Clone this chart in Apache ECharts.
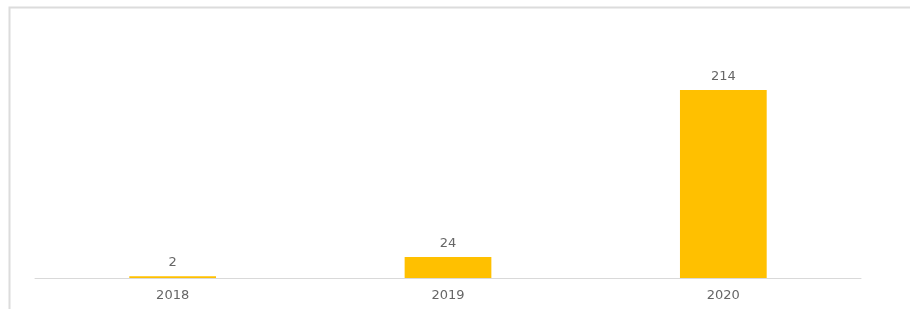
<!DOCTYPE html>
<html>
<head>
<meta charset="utf-8">
<script src="https://cdn.jsdelivr.net/npm/echarts@6/dist/echarts.min.js"></script>
<style>
  html, body { margin: 0; padding: 0; background: #fff; }
  #chart { width: 910px; height: 309px; }
</style>
</head>
<body>
<div id="chart"></div>
<script>
const years  = ['2018', '2019', '2020'];
const counts = [2, 24, 214];

const chart = echarts.init(document.getElementById('chart'));

chart.setOption({
  animation: false,
  grid: { left: 35, right: 49, top: 90, bottom: 31 },
  // frame lines at top and left like the original picture
  graphic: [{
    type: 'polyline',
    silent: true,
    shape: { points: [[9.5, 309], [9.5, 7.5], [910, 7.5]] },
    style: { stroke: '#dcdcdc', lineWidth: 2, fill: null }
  }],
  xAxis: {
    type: 'category',
    data: years,
    axisLine: { lineStyle: { color: '#d9d9d9', width: 1 } },
    axisTick: { show: false },
    axisLabel: {
      color: '#666666',
      fontFamily: 'DejaVu Sans',
      fontSize: 13,
      margin: 11
    }
  },
  yAxis: {
    type: 'value',
    min: 0,
    max: 214,
    show: false,
    splitLine: { show: false }
  },
  series: [{
    type: 'bar',
    data: counts,
    barWidth: '31.5%',
    itemStyle: { color: '#FFC000' },
    label: {
      show: true,
      position: 'top',
      distance: 7,
      color: '#666666',
      fontFamily: 'DejaVu Sans',
      fontSize: 13
    }
  }]
});
</script>
</body>
</html>
